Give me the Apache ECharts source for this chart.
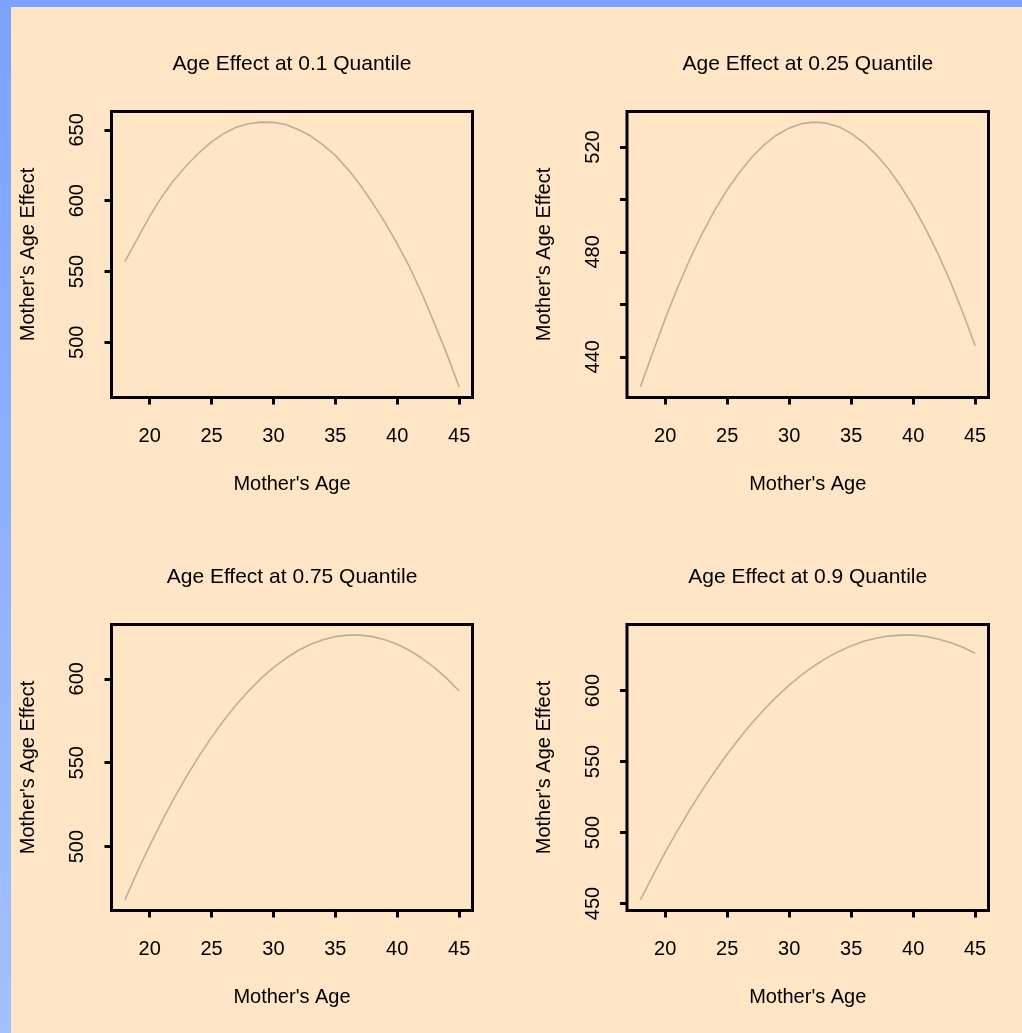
<!DOCTYPE html>
<html>
<head>
<meta charset="utf-8">
<script src="https://cdn.jsdelivr.net/npm/echarts@6/dist/echarts.min.js"></script>
<style>
  html, body { margin: 0; padding: 0; background: #fde5c6; }
  #chart { width: 1022px; height: 1033px; }
</style>
</head>
<body>
<div id="chart"></div>
<script>
// Mother's age effect on the outcome at four quantiles
const ages = [18, 19, 20, 21, 22, 23, 24, 25, 26, 27, 28, 29, 30, 31,
              32, 33, 34, 35, 36, 37, 38, 39, 40, 41, 42, 43, 44, 45];

const effectQ10 = [557, 573, 589, 603, 615, 625, 634, 641.5, 647.5, 651.8, 654.3, 655.5, 655.3, 653.8,
                   650.3, 645.8, 639.4, 632, 622.3, 611.2, 598.5, 584.8, 569.6, 553, 534.3, 513.4, 492, 468.5];
const effectQ25 = [428.5, 441.6, 454.5, 466.4, 477.3, 487.1, 495.9, 503.7, 510.4, 516.2, 520.9, 524.6, 527.2, 528.9,
                   529.5, 529.1, 527.7, 525.2, 521.7, 517.2, 511.7, 505.1, 497.5, 488.9, 479.3, 468.7, 457, 444.3];
const effectQ75 = [468.3, 484.9, 500.6, 515.3, 529.2, 542.1, 554.1, 565.1, 575.3, 584.5, 592.8, 600.2, 606.6, 612.2,
                   616.8, 620.5, 623.2, 625.1, 626, 626, 625.1, 623.2, 620.5, 616.8, 612.2, 606.6, 600.2, 592.8];
const effectQ90 = [452.5, 469.5, 486, 501.5, 516.2, 530, 543, 555.2, 566.6, 577.2, 586.9, 595.8, 603.9, 611,
                   617.3, 622.9, 627.6, 631.5, 634.7, 636.9, 638.4, 639.1, 639.1, 638.2, 636.4, 633.9, 630.5, 626.3];

const panelTitles = ['Age Effect at 0.1 Quantile', 'Age Effect at 0.25 Quantile',
                     'Age Effect at 0.75 Quantile', 'Age Effect at 0.9 Quantile'];

const xTicks = [20, 25, 30, 35, 40, 45];
const yTicksQ10 = [500, 550, 600, 650];
const yTicksQ25 = [440, 460, 480, 500, 520];
const yLabelsQ25 = [440, 480, 520];
const yTicksQ75 = [500, 550, 600];
const yTicksQ90 = [450, 500, 550, 600];

const xName = "Mother's Age";
const yName = "Mother's Age Effect";

const FONT = "'Liberation Sans', Arial, Helvetica, sans-serif";

// panel boxes: [left, top, width, height]
const boxes = [
  [111.5, 111.5, 361, 286],
  [627, 111.5, 361.5, 286],
  [111.5, 624.5, 361, 286],
  [627, 624.5, 361.5, 286]
];

const panels = [
  { values: effectQ10, ticks: yTicksQ10, labels: yTicksQ10 },
  { values: effectQ25, ticks: yTicksQ25, labels: yLabelsQ25 },
  { values: effectQ75, ticks: yTicksQ75, labels: yTicksQ75 },
  { values: effectQ90, ticks: yTicksQ90, labels: yTicksQ90 }
];

// axis range padded by 4% on each side
function paddedRange(arr) {
  const lo = Math.min(...arr), hi = Math.max(...arr);
  const pad = (hi - lo) * 0.04;
  return [lo - pad, hi + pad];
}

const xRange = paddedRange(ages);

const grids = [], xAxes = [], yAxes = [], series = [], titles = [];

panels.forEach((p, i) => {
  const b = boxes[i];
  grids.push({
    left: b[0], top: b[1], width: b[2], height: b[3],
    show: true, borderColor: '#000', borderWidth: 3, backgroundColor: 'transparent',
    containLabel: false
  });
  xAxes.push({
    type: 'value', gridIndex: i, min: xRange[0], max: xRange[1],
    axisLine: { show: false },
    axisTick: { show: true, inside: false, length: 7, customValues: xTicks,
                lineStyle: { color: '#000', width: 3 } },
    axisLabel: { show: true, customValues: xTicks, margin: 29,
                 color: '#000', fontSize: 20, fontFamily: FONT },
    splitLine: { show: false },
    name: xName, nameLocation: 'middle', nameGap: 77,
    nameTextStyle: { color: '#000', fontSize: 20, fontFamily: FONT }
  });
  const yr = paddedRange(p.values);
  yAxes.push({
    type: 'value', gridIndex: i, min: yr[0], max: yr[1],
    axisLine: { show: false },
    axisTick: { show: true, inside: false, length: 7, customValues: p.ticks,
                lineStyle: { color: '#000', width: 3 } },
    axisLabel: { show: true, customValues: p.labels, rotate: 90, margin: 24,
                 color: '#000', fontSize: 20, fontFamily: FONT },
    splitLine: { show: false },
    name: yName, nameLocation: 'middle', nameGap: 73,
    nameTextStyle: { color: '#000', fontSize: 20, fontFamily: FONT }
  });
  series.push({
    type: 'line', xAxisIndex: i, yAxisIndex: i,
    data: ages.map((a, k) => [a, p.values[k]]),
    showSymbol: false, symbol: 'none', smooth: false,
    lineStyle: { color: '#c0ad98', width: 1.6 },
    silent: true, animation: false
  });
  titles.push({
    text: panelTitles[i],
    left: b[0] + b[2] / 2, textAlign: 'center',
    top: b[1] - 58, padding: 0,
    textStyle: { color: '#000', fontSize: 21, fontWeight: 'normal', fontFamily: FONT }
  });
});

const chart = echarts.init(document.getElementById('chart'), null, { renderer: 'canvas' });
chart.setOption({
  backgroundColor: '#fde5c6',
  animation: false,
  title: titles,
  grid: grids,
  xAxis: xAxes,
  yAxis: yAxes,
  series: series,
  graphic: [
    { type: 'rect', left: 0, top: 0, z: 10,
      shape: { width: 1022, height: 7 }, style: { fill: '#7aa2ff' } },
    { type: 'rect', left: 0, top: 0, z: 10,
      shape: { width: 11, height: 1033 },
      style: { fill: new echarts.graphic.LinearGradient(0, 0, 0, 1, [
        { offset: 0, color: '#7aa2ff' }, { offset: 1, color: '#a3c0ff' }]) } }
  ]
});
</script>
</body>
</html>
